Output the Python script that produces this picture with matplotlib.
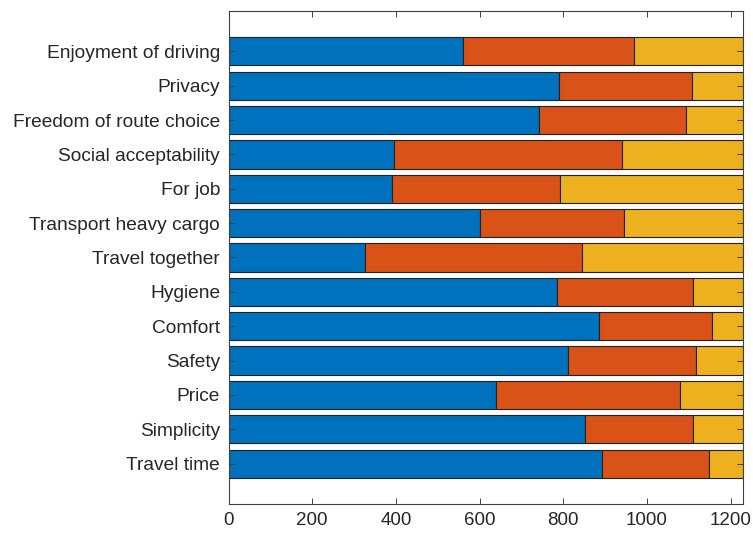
import numpy as np
import matplotlib
matplotlib.use('Agg')
import matplotlib.pyplot as plt

plt.rcParams['font.family'] = ['Liberation Sans', 'DejaVu Sans']

categories = ['Enjoyment of driving', 'Privacy', 'Freedom of route choice',
              'Social acceptability', 'For job', 'Transport heavy cargo',
              'Travel together', 'Hygiene', 'Comfort', 'Safety', 'Price',
              'Simplicity', 'Travel time']
blue_vals = [561, 790, 743, 396, 391, 601, 326, 784, 885, 812, 638, 852, 892]
red_vals = [408, 317, 349, 544, 401, 344, 518, 325, 271, 306, 441, 257, 255]
yellow_vals = [261, 123, 138, 290, 438, 285, 386, 121, 74, 112, 151, 121, 83]
xticks = [0, 200, 400, 600, 800, 1000, 1200]

colors = ['#0072BD', '#D95319', '#EDB120']
total = 1230

fig = plt.figure(figsize=(7.53, 5.34), dpi=100)
ax = fig.add_axes([0.3035, 0.0562, 0.6836, 0.9232])

y = np.arange(len(categories))
left = np.zeros(len(categories))
for vals, c in zip([blue_vals, red_vals, yellow_vals], colors):
    ax.barh(y, vals, left=left, height=0.82, color=c, edgecolor='#222222', linewidth=0.8)
    left = left + np.array(vals)

ax.set_xlim(0, total)
ax.set_ylim(len(categories) - 1 + 1.175, -1.175)
ax.set_xticks(xticks)
ax.set_yticks(y)
ax.set_yticklabels(categories)

ax.tick_params(axis='both', direction='in', length=4, width=0.7, colors='#404040',
               labelcolor='#262626', top=True, right=True)
ax.tick_params(axis='y', pad=6, labelsize=13.8)
ax.tick_params(axis='x', pad=6, labelsize=13.5)
for s in ax.spines.values():
    s.set_color('#404040')
    s.set_linewidth(0.8)

fig.savefig('out.png', dpi=100)
